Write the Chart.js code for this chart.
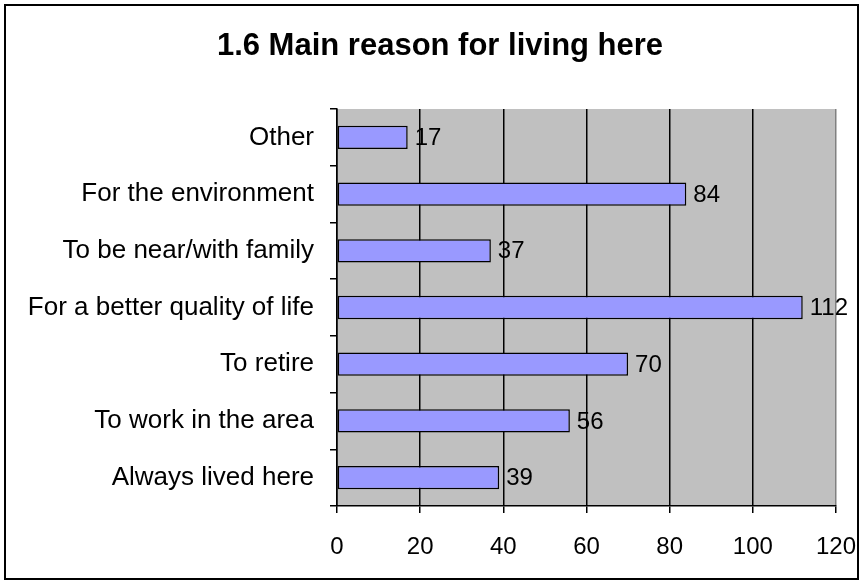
<!DOCTYPE html>
<html>
<head>
<meta charset="utf-8">
<script src="https://cdn.jsdelivr.net/npm/chart.js@4"></script>
<style>
    html, body { margin: 0; padding: 0; background: #fff; }
    #wrap { position: relative; width: 868px; height: 585px; }
</style>
</head>
<body>
<div id="wrap"><canvas id="reasonChart" width="868" height="585"></canvas></div>
<script>
// ─── Data ─────────────────────────────────────────────────────────────────
const chartTitle = '1.6 Main reason for living here';
const categories = [
    'Other',
    'For the environment',
    'To be near/with family',
    'For a better quality of life',
    'To retire',
    'To work in the area',
    'Always lived here'
];
const responses = [17, 84, 37, 112, 70, 56, 39];
const xTicks = [0, 20, 40, 60, 80, 100, 120];

const FONT = 'Liberation Sans, Arial, sans-serif';

// Gray plot area, outer frame and title (Excel style, title centred on the frame)
const frame = {
    id: 'frame',
    beforeDraw: function (chart) {
        const c = chart.ctx, a = chart.chartArea;
        c.save();
        c.fillStyle = '#fff';
        c.fillRect(0, 0, chart.width, chart.height);
        c.fillStyle = '#C0C0C0';
        c.fillRect(a.left, a.top, a.right - a.left, a.bottom - a.top);
        c.restore();
    },
    afterDraw: function (chart) {
        const c = chart.ctx;
        c.save();
        c.strokeStyle = '#000';
        c.lineWidth = 2;
        c.strokeRect(5, 5, 853, 574);
        c.font = 'bold 31px ' + FONT;
        c.fillStyle = '#000';
        c.textAlign = 'center';
        c.textBaseline = 'middle';
        c.fillText(chartTitle, 440, 46);
        c.restore();
    }
};

// Value labels to the right of each bar
const valueLabels = {
    id: 'valueLabels',
    afterDatasetsDraw: function (chart) {
        const c = chart.ctx;
        const meta = chart.getDatasetMeta(0);
        c.save();
        c.font = '24px ' + FONT;
        c.fillStyle = '#000';
        c.textAlign = 'left';
        c.textBaseline = 'middle';
        meta.data.forEach(function (bar, i) {
            c.fillText(String(responses[i]), bar.x + 7, bar.y + 1);
        });
        c.restore();
    }
};

new Chart(document.getElementById('reasonChart'), {
    type: 'bar',
    data: {
        labels: categories,
        datasets: [{
            data: responses,
            backgroundColor: '#9999FF',
            borderColor: '#000',
            borderWidth: 1.5,
            borderSkipped: false,
            categoryPercentage: 1,
            barPercentage: 0.41
        }]
    },
    options: {
        indexAxis: 'y',
        responsive: false,
        animation: false,
        layout: { padding: { left: 0, right: 32, top: 109, bottom: 0 } },
        plugins: {
            legend: { display: false },
            tooltip: { enabled: false },
            title: { display: false }
        },
        scales: {
            x: {
                min: 0,
                max: 120,
                afterBuildTicks: function (scale) {
                    scale.ticks = xTicks.map(function (v) { return { value: v }; });
                },
                afterFit: function (scale) {
                    scale.height = 79;
                    scale.paddingLeft = 0;
                    scale.paddingRight = 0;
                },
                ticks: { color: '#000', padding: 20, font: { family: FONT, size: 24 } },
                grid: {
                    color: function (ctx) {
                        return ctx.tick && ctx.tick.value === 120 ? '#808080' : '#000';
                    },
                    lineWidth: 1.5,
                    tickLength: 7,
                    tickColor: '#000'
                },
                border: { color: '#000', width: 1.5 }
            },
            y: {
                afterFit: function (scale) { scale.width = 337; },
                ticks: { color: '#000', padding: 16, font: { family: FONT, size: 26 } },
                grid: {
                    offset: true,
                    drawOnChartArea: false,
                    color: '#000',
                    lineWidth: 1.5,
                    tickLength: 7
                },
                border: { color: '#000', width: 1.5 }
            }
        }
    },
    plugins: [frame, valueLabels]
});
</script>
</body>
</html>
